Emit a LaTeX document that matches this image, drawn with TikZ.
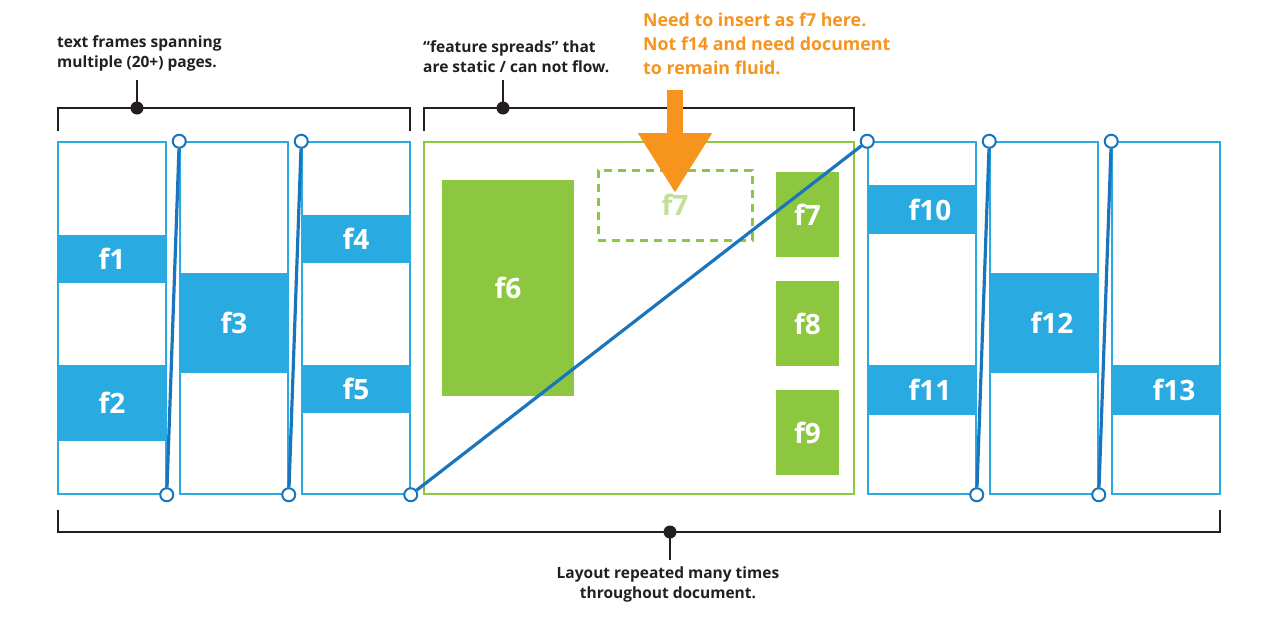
\documentclass[tikz,border=0pt]{standalone}
\usepackage{fontspec}
\setmainfont{Open Sans}
\usetikzlibrary{arrows.meta, positioning}
\definecolor{frameblue}{HTML}{29ABE2}
\definecolor{threadblue}{HTML}{1B75BC}
\definecolor{spreadgreen}{HTML}{8DC63F}
\definecolor{palegreen}{HTML}{C2DF98}
\definecolor{noteorange}{HTML}{F7941D}
\definecolor{inkblack}{HTML}{231F20}

\begin{document}
\begin{tikzpicture}[x=1pt, y=-1pt,
  page/.style={draw=frameblue, line width=1.5pt, minimum width=108pt,
               minimum height=352pt, inner sep=0pt},
  band/.style={fill=frameblue, text=white, minimum width=108pt, inner sep=0pt,
               font=\bfseries\fontsize{28}{28}\selectfont},
  bandwide/.style={band, execute at begin node={\hspace*{16pt}}},
  block/.style={fill=spreadgreen, text=white, inner sep=0pt,
                font=\bfseries\fontsize{28}{28}\selectfont},
  port/.style={circle, draw=threadblue, fill=white, line width=2pt,
               minimum size=13pt, inner sep=0pt},
  thread/.style={draw=threadblue, line width=3.2pt},
  brace/.style={draw=inkblack, line width=1.5pt},
  dot/.style={circle, fill=inkblack, minimum size=13pt, inner sep=0pt},
  note/.style={align=left, inner sep=0pt, text=inkblack,
               font=\bfseries\fontsize{15.5}{20}\selectfont}
]
  \useasboundingbox (0,0) rectangle (1280,616);

  % text frame pages
  \node[page] (p1) at (112,318) {};
  \node[page] (p2) at (234,318) {};
  \node[page] (p3) at (356,318) {};
  \node[page] (p4) at (922,318) {};
  \node[page] (p5) at (1044,318) {};
  \node[page] (p6) at (1166,318) {};

  \node[band, minimum height=48pt] (f1) at (112,259) {f1};
  \node[band, minimum height=76pt] (f2) at (112,403) {f2};
  \node[band, minimum height=100pt] (f3) at (234,323) {f3};
  \node[band, minimum height=48pt] (f4) at (356,239) {f4};
  \node[band, minimum height=48pt] (f5) at (356,389) {f5};
  \node[bandwide, minimum height=49pt] (f10) at (922,209.5) {f10};
  \node[bandwide, minimum height=50pt] (f11) at (922,390) {f11};
  \node[bandwide, minimum height=100pt] (f12) at (1044,323) {f12};
  \node[bandwide, minimum height=50pt] (f13) at (1166,390) {f13};

  % feature spread
  \node[draw=spreadgreen, line width=1.5pt, minimum width=430pt,
        minimum height=352pt, inner sep=0pt] (spread) at (639,318) {};
  \node[block, minimum width=132pt, minimum height=216pt] (f6) at (508,288) {f6};
  \node[draw=spreadgreen, dash pattern=on 8pt off 6pt, line width=3pt,
        minimum width=154pt, minimum height=70pt, text=palegreen, inner sep=0pt,
        font=\bfseries\fontsize{28}{28}\selectfont] (slot) at (675,205) {f7};
  \node[block, minimum width=63pt, minimum height=85pt] (f7) at (807.5,214.5) {f7};
  \node[block, minimum width=63pt, minimum height=85pt] (f8) at (807.5,323.5) {f8};
  \node[block, minimum width=63pt, minimum height=85pt] (f9) at (807.5,432.5) {f9};

  % threads
  \node[port] (t1a) at (p1.south east) {};
  \node[port] (t1b) at (p2.north west) {};
  \node[port] (t2a) at (p2.south east) {};
  \node[port] (t2b) at (p3.north west) {};
  \node[port] (t3a) at (p3.south east) {};
  \node[port] (t3b) at (p4.north west) {};
  \node[port] (t4a) at (p4.south east) {};
  \node[port] (t4b) at (p5.north west) {};
  \node[port] (t5a) at (p5.south east) {};
  \node[port] (t5b) at (p6.north west) {};
  \draw[thread] (t1a) -- (t1b);
  \draw[thread] (t2a) -- (t2b);
  \draw[thread] (t3a) -- (t3b);
  \draw[thread] (t4a) -- (t4b);
  \draw[thread] (t5a) -- (t5b);

  % brackets
  \coordinate (br1a) at (58,131);
  \coordinate (br1b) at (410,131);
  \draw[brace] (br1a) -- ++(0,-23) -| (br1b);
  \node[dot] (d1) at (137,108) {};
  \draw[brace] (d1.center) -- ++(0,-28);
  \node[note, anchor=north west] (lbl1) at (57,35) {text frames spanning\\multiple (20+) pages.};

  \coordinate (br2a) at (424,131);
  \coordinate (br2b) at (854,131);
  \draw[brace] (br2a) -- ++(0,-23) -| (br2b);
  \node[dot] (d2) at (503,108) {};
  \draw[brace] (d2.center) -- ++(0,-28);
  \node[note, anchor=north west] (lbl2) at (423,40) {“feature spreads” that\\are static / can not flow.};

  \coordinate (br3a) at (58,510);
  \coordinate (br3b) at (1220,510);
  \draw[brace] (br3a) -- ++(0,22) -| (br3b);
  \node[dot] (d3) at (670,532) {};
  \draw[brace] (d3.center) -- ++(0,28);
  \node[note, align=center, anchor=north] (lbl3) at (668,567) {Layout repeated many times\\throughout document.};

  % insert request
  \coordinate (arrowtop) at (675,90);
  \coordinate (arrowtip) at (675,193);
  \draw[noteorange, line width=16pt, -{Triangle[width=70pt, length=60pt]}] (arrowtop) -- (arrowtip);
  \node[note, text=noteorange, anchor=north west,
        font=\bfseries\fontsize{17.8}{24}\selectfont] (lbl4) at (643,13)
        {Need to insert as f7 here.\\Not f14 and need document\\to remain fluid.};
\end{tikzpicture}
\end{document}
